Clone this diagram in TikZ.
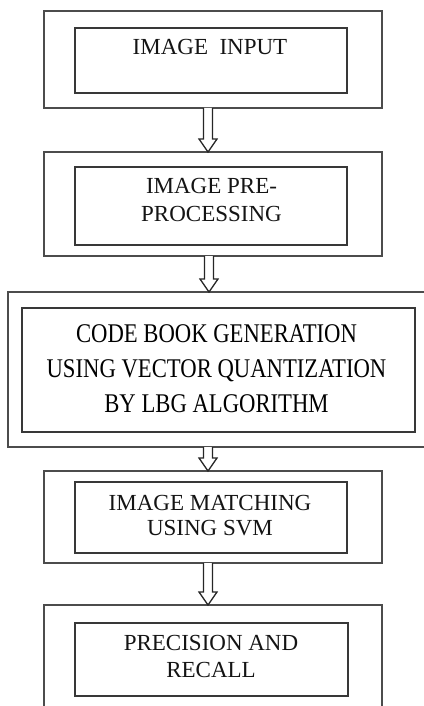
\documentclass[tikz,border=0pt]{standalone}
\usepackage{fontspec}
\setmainfont{Liberation Serif}
\newfontfamily\condfont[FakeStretch=0.84]{Liberation Serif}
\usetikzlibrary{calc}
\tikzset{
  outerbox/.style={draw=black!70, line width=1.6pt, inner sep=0pt, outer sep=0pt},
  innerbox/.style={draw=black!78, line width=2pt, inner sep=0pt, outer sep=0pt},
  boxtext/.style={inner sep=0pt, anchor=north, align=center, text=black!92,
    font=\fontsize{23}{28}\selectfont},
  hollowarrow/.style={draw=black!85, line width=1.3pt, fill=white, line join=miter}
}
\newcommand\hollowdown[3]{%
  \draw[hollowarrow] let \p1=(#1.south), \p2=(#2.north) in
    ({#3-4.5pt},\y1) -- ({#3-4.5pt},{\y2+13pt}) -- ({#3-9pt},{\y2+13pt}) -- (#3,\y2)
    -- ({#3+9pt},{\y2+13pt}) -- ({#3+4.5pt},{\y2+13pt}) -- ({#3+4.5pt},\y1);}
\begin{document}
\begin{tikzpicture}[x=1pt,y=-1pt]
\useasboundingbox (0,0) rectangle (423,706);
% outer frames
\node[outerbox, minimum width=338pt, minimum height=97pt] (b1) at (213,59.5) {};
\node[outerbox, minimum width=338pt, minimum height=104pt] (b2) at (213,204) {};
\node[outerbox, minimum width=432pt, minimum height=155pt] (b3) at (224,369.5) {};
\node[outerbox, minimum width=338pt, minimum height=92pt] (b4) at (213,517) {};
\node[outerbox, minimum width=338pt, minimum height=125pt] (b5) at (213,667.5) {};
% inner boxes
\node[innerbox, minimum width=272pt, minimum height=65pt] (i1) at (211,60.5) {};
\node[innerbox, minimum width=272pt, minimum height=78pt] (i2) at (211,206) {};
\node[innerbox, minimum width=393pt, minimum height=124pt] (i3) at (218.5,370) {};
\node[innerbox, minimum width=272pt, minimum height=71pt] (i4) at (211,517.5) {};
\node[innerbox, minimum width=273pt, minimum height=73pt] (i5) at (211.5,659.5) {};
% texts
\node[boxtext] (t1) at (210,39) {IMAGE\ \ INPUT};
\node[boxtext] (t2) at (211.5,178) {IMAGE PRE-\\PROCESSING};
\node[boxtext, font=\condfont\fontsize{27}{35}\selectfont, text=black] (t3) at (216.5,324)
  {CODE BOOK GENERATION\\USING VECTOR QUANTIZATION\\BY LBG ALGORITHM};
\node[boxtext, font=\fontsize{23}{25}\selectfont] (t4) at (210,495) {IMAGE MATCHING\\USING SVM};
\node[boxtext, font=\fontsize{23}{27}\selectfont] (t5) at (211,635) {PRECISION AND\\RECALL};
% arrows
\hollowdown{b1}{b2}{208pt}
\hollowdown{b2}{b3}{209pt}
\hollowdown{b3}{b4}{208pt}
\hollowdown{b4}{b5}{208pt}
\end{tikzpicture}
\end{document}
